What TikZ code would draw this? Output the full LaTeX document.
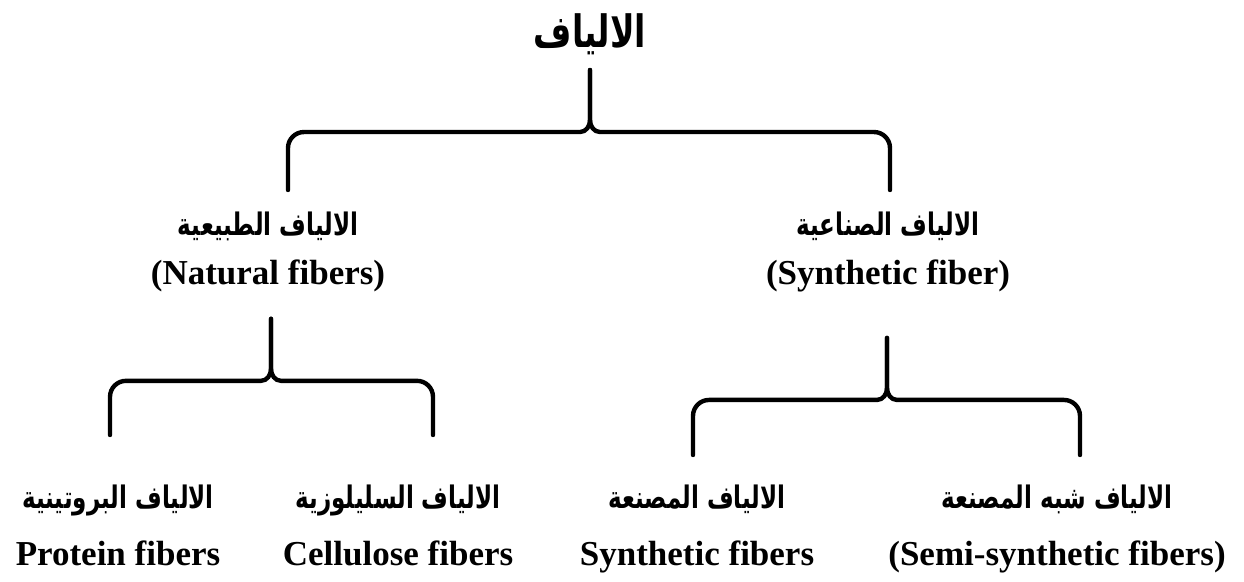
\documentclass[tikz,border=0pt]{standalone}
\usepackage{fontspec}
\usepackage{graphicx}
\setmainfont{Liberation Serif}
\newfontfamily\arabicfont[Script=Arabic]{DejaVu Sans}
\TeXXeTstate=1
\newcommand\ar[1]{\scalebox{1}[1.35]{\arabicfont\fontsize{11.5}{14}\selectfont\beginR #1\endR}}
\begin{document}
\begin{tikzpicture}[x=0.5pt,y=-0.5pt,line join=round,line cap=round,
	bracket/.style={line width=2.2pt},
	fib/.style={anchor=north,align=center,inner sep=0pt,font=\bfseries\fontsize{17.5}{21}\selectfont}]
	\useasboundingbox (0,0) rectangle (1244,582);
	\node[inner sep=0pt,font=\bfseries] (root) at (590,34)
		{\scalebox{1}[1.35]{\arabicfont\fontsize{16.5}{20}\selectfont\beginR الالياف\endR}};
	\node[fib] (nat) at (268,212) {\ar{الالياف الطبيعية}\\[3.5pt](Natural fibers)};
	\node[fib] (syn) at (888,212) {\ar{الالياف الصناعية}\\[3.5pt](Synthetic fiber)};
	\node[fib] (prot) at (118,485) {\ar{الالياف البروتينية}\\[7.5pt]Protein fibers};
	\node[fib] (cell) at (398,485) {\ar{الالياف السليلوزية}\\[7.5pt]Cellulose fibers};
	\node[fib] (synf) at (697,485) {\ar{الالياف المصنعة}\\[7.5pt]Synthetic fibers};
	\node[fib] (semi) at (1057,485) {\ar{الالياف شبه المصنعة}\\[7.5pt](Semi-synthetic fibers)};
	\path
	(root.south) ++(0,15) coordinate (r0)
	(nat.north) ++(20,-22) coordinate (r1)
	(syn.north) ++(2,-22) coordinate (r2)
	(nat.south) ++(3,26) coordinate (n0)
	(prot.north) ++(-8,-50) coordinate (n1)
	(cell.north) ++(35,-50) coordinate (n2)
	(syn.south) ++(-1,45) coordinate (s0)
	(synf.north) ++(-4,-30) coordinate (s1)
	(semi.north) ++(23,-30) coordinate (s2)
	;
	\foreach \s/\e/\d in {r0/r1/-1,r0/r2/1,n0/n1/-1,n0/n2/1,s0/s1/-1,s0/s2/1}
	\draw[bracket] (\s) -- ++(0,50) to[out=-90,in=90+90*\d] ++(10*\d,12)
		[rounded corners=8] -| (\e);
\end{tikzpicture}
\end{document}
